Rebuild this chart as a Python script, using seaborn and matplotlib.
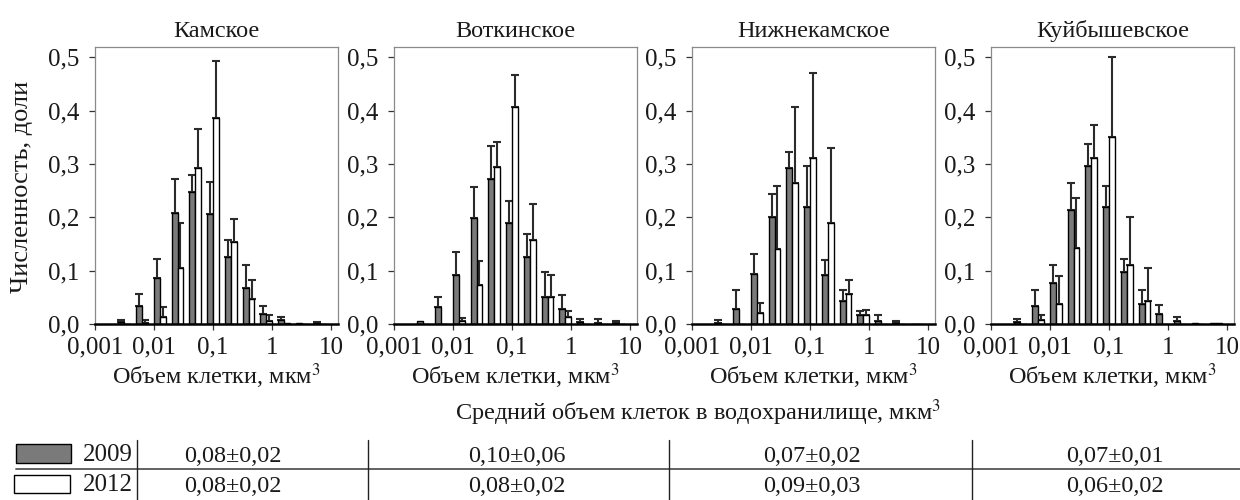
import numpy as np
import pandas as pd
import matplotlib
matplotlib.use("Agg")
import matplotlib.pyplot as plt
from matplotlib.patches import Rectangle
from matplotlib.lines import Line2D
from matplotlib.ticker import FixedLocator, NullLocator, FixedFormatter
import seaborn as sns

# ---------------- data ----------------
bins = [0.003125, 0.00625, 0.0125, 0.025, 0.05, 0.1, 0.2, 0.4, 0.8, 1.6, 3.2, 6.4]
years = ["2009", "2012"]
reservoirs = ["Камское", "Воткинское", "Нижнекамское", "Куйбышевское"]

kama_2009 = [0.003, 0.034, 0.087, 0.208, 0.247, 0.207, 0.125, 0.067, 0.019, 0.0075, 0.001, 0.002]
kama_2009_err = [0.004, 0.023, 0.035, 0.063, 0.033, 0.059, 0.032, 0.043, 0.014, 0.0055, 0.0, 0.001]
kama_2012 = [0.0, 0.002, 0.013, 0.104, 0.292, 0.386, 0.154, 0.047, 0.006, 0.002, 0.0, 0.0]
kama_2012_err = [0.0, 0.005, 0.019, 0.086, 0.074, 0.107, 0.042, 0.035, 0.010, 0.0, 0.0, 0.0]

votk_2009 = [0.006, 0.032, 0.092, 0.199, 0.272, 0.190, 0.125, 0.050, 0.029, 0.004, 0.001, 0.001]
votk_2009_err = [0.0, 0.019, 0.042, 0.057, 0.061, 0.040, 0.044, 0.047, 0.025, 0.006, 0.009, 0.005]
votk_2012 = [0.0, 0.0, 0.006, 0.074, 0.295, 0.407, 0.157, 0.050, 0.013, 0.0, 0.0, 0.0]
votk_2012_err = [0.0, 0.0, 0.006, 0.044, 0.046, 0.060, 0.067, 0.042, 0.011, 0.0, 0.0, 0.0]

nkam_2009 = [0.0025, 0.029, 0.094, 0.201, 0.292, 0.220, 0.092, 0.043, 0.016, 0.006, 0.0025, 0.0]
nkam_2009_err = [0.005, 0.035, 0.038, 0.042, 0.031, 0.076, 0.027, 0.020, 0.009, 0.010, 0.0035, 0.0]
nkam_2012 = [0.0, 0.0, 0.021, 0.140, 0.264, 0.311, 0.190, 0.057, 0.016, 0.0, 0.0, 0.0]
nkam_2012_err = [0.0, 0.0, 0.018, 0.119, 0.143, 0.160, 0.140, 0.026, 0.011, 0.0, 0.0, 0.0]

kuib_2009 = [0.003, 0.034, 0.077, 0.213, 0.296, 0.219, 0.098, 0.038, 0.019, 0.006, 0.0025, 0.001]
kuib_2009_err = [0.007, 0.030, 0.033, 0.052, 0.041, 0.039, 0.024, 0.026, 0.017, 0.007, 0.0, 0.0]
kuib_2012 = [0.0, 0.007, 0.037, 0.142, 0.311, 0.351, 0.110, 0.044, 0.0, 0.0, 0.0, 0.001]
kuib_2012_err = [0.0, 0.010, 0.052, 0.094, 0.062, 0.150, 0.090, 0.060, 0.0, 0.0, 0.0, 0.0]

x_ticks = [0.001, 0.01, 0.1, 1, 10]
x_ticklabels = ["0,001", "0,01", "0,1", "1", "10"]
y_ticks = [0.0, 0.1, 0.2, 0.3, 0.4, 0.5]
y_ticklabels = ["0,0", "0,1", "0,2", "0,3", "0,4", "0,5"]

mean_2009 = ["0,08±0,02", "0,10±0,06", "0,07±0,02", "0,07±0,01"]
mean_2012 = ["0,08±0,02", "0,08±0,02", "0,09±0,03", "0,06±0,02"]

series = [
    (kama_2009, kama_2009_err, kama_2012, kama_2012_err),
    (votk_2009, votk_2009_err, votk_2012, votk_2012_err),
    (nkam_2009, nkam_2009_err, nkam_2012, nkam_2012_err),
    (kuib_2009, kuib_2009_err, kuib_2012, kuib_2012_err),
]

# ---------------- style ----------------
sns.set_style("white")
plt.rcParams["font.family"] = ["Liberation Serif", "DejaVu Serif"]
plt.rcParams["mathtext.fontset"] = "stix"
FS_TICK = 18
FS_TXT = 17.5
TXT = "#1a1a1a"

gray = "#7a7a7a"
palette = {"2009": gray, "2012": "white"}

W, H = 1240, 500
fig = plt.figure(figsize=(12.4, 5), dpi=100)

lefts = [95, 394, 692, 991]
ax_w = 243
ax_top, ax_bot = 47, 324

for i, (name, (v09, e09, v12, e12)) in enumerate(zip(reservoirs, series)):
    ax = fig.add_axes([lefts[i] / W, 1 - ax_bot / H, ax_w / W, (ax_bot - ax_top) / H])
    df = pd.DataFrame({
        "volume": bins * 2,
        "frac": list(v09) + list(v12),
        "year": [years[0]] * len(bins) + [years[1]] * len(bins),
    })
    errs = {years[0]: e09, years[1]: e12}
    sns.barplot(data=df, x="volume", y="frac", hue="year", hue_order=years,
                palette=palette, native_scale=True, log_scale=(True, False),
                width=0.2 / np.log10(2), gap=0, errorbar=None,
                edgecolor="black", linewidth=1.0, legend=False, ax=ax, zorder=2)
    # error bars (upper only), placed on the bars seaborn drew
    logbins = np.log10(bins)
    for cont, yr in zip(ax.containers, years):
        xs, ys, es = [], [], []
        for bar in cont:
            x0 = bar.get_x()
            x1 = x0 + bar.get_width()
            xc = np.sqrt(x0 * x1)
            k = int(np.argmin(np.abs(logbins - np.log10(xc))))
            if errs[yr][k] > 0:
                xs.append(xc)
                ys.append(bar.get_height())
                es.append(errs[yr][k])
        ax.errorbar(xs, ys, yerr=[np.zeros(len(es)), es], fmt="none",
                    ecolor="#2b2b2b", elinewidth=1.5, capsize=2.6, capthick=1.5,
                    zorder=1)
    ax.set_xlim(0.001, 13.1)
    ax.set_ylim(0, 0.519)
    ax.xaxis.set_major_locator(FixedLocator(x_ticks))
    ax.xaxis.set_major_formatter(FixedFormatter(x_ticklabels))
    ax.xaxis.set_minor_locator(NullLocator())
    ax.yaxis.set_major_locator(FixedLocator(y_ticks))
    ax.yaxis.set_major_formatter(FixedFormatter(y_ticklabels))
    ax.tick_params(axis="both", which="major", direction="out", length=4,
                   width=0.9, color="#333333", labelsize=FS_TICK, labelcolor=TXT)
    ax.tick_params(axis="x", pad=5, bottom=True)
    ax.tick_params(axis="y", pad=7, left=True)
    for s in ["left", "top", "right"]:
        ax.spines[s].set_color("#8a8a8a")
        ax.spines[s].set_linewidth(0.9)
    ax.spines["bottom"].set_color("black")
    ax.spines["bottom"].set_linewidth(1.8)
    ax.set_title(name, fontsize=FS_TXT, pad=7, color=TXT)
    ax.set_xlabel("Объем клетки, мкм$^3$", fontsize=FS_TXT, labelpad=2, color=TXT)
    ax.set_ylabel("")

fig.text(22 / W, 1 - 187 / H, "Численность, доли", rotation=90, fontsize=19,
         ha="center", va="center", color=TXT)
fig.text(698 / W, 1 - 413 / H, "Средний объем клеток в водохранилище, мкм$^3$",
         fontsize=FS_TXT, ha="center", va="center", color=TXT)

# ---------------- table ----------------
tab = fig.add_axes([0, 0, 1, 1], zorder=-1)
tab.set_xlim(0, W)
tab.set_ylim(H, 0)
tab.axis("off")
tab.add_line(Line2D([16, W], [469, 469], color="#555555", lw=1.3))
for xv in [137, 368, 669, 972]:
    tab.add_line(Line2D([xv, xv], [440, 500], color="#222222", lw=1.0))
tab.add_patch(Rectangle((16, 444), 55, 19, facecolor=gray, edgecolor="black", lw=1.0))
tab.add_patch(Rectangle((14, 475), 56, 18, facecolor="white", edgecolor="black", lw=1.0))
tab.text(108, 455, years[0], fontsize=18, ha="center", va="center", color=TXT)
tab.text(108, 485, years[1], fontsize=18, ha="center", va="center", color=TXT)
col_centers = [233, 517, 812, 1115]
for cx, a, b in zip(col_centers, mean_2009, mean_2012):
    tab.text(cx, 456, a, fontsize=FS_TXT, ha="center", va="center", color=TXT)
    tab.text(cx, 486, b, fontsize=FS_TXT, ha="center", va="center", color=TXT)

fig.savefig("out.png", dpi=100, facecolor="white")
